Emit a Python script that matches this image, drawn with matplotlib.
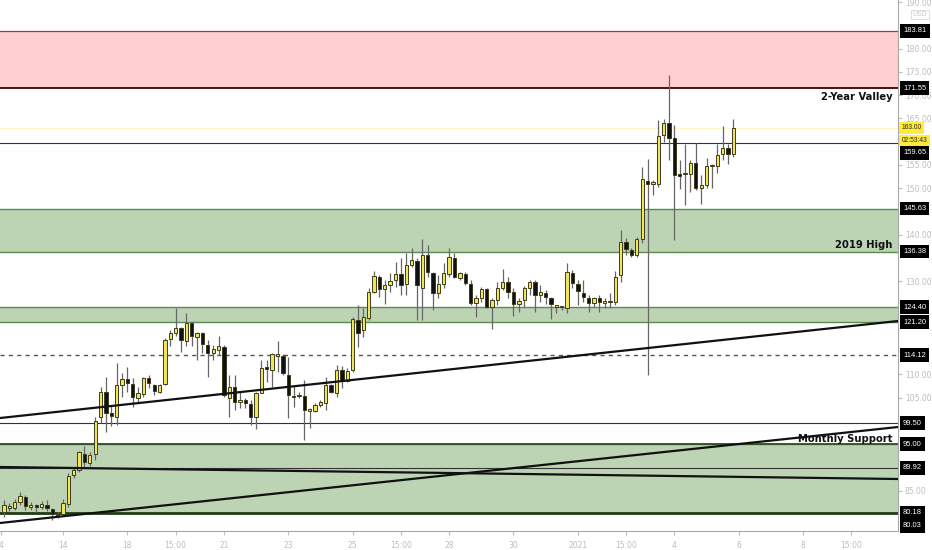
import matplotlib.pyplot as plt
from matplotlib.transforms import blended_transform_factory

# candles
opens = [80.3, 81.3, 81.3, 82.5, 83.6, 81.4, 81.6, 81.5, 82.0, 81.0,
         80.0, 80.0, 82.2, 88.3, 89.4, 92.9, 91.0, 92.8, 100.8, 106.1,
         101.7, 100.9, 107.6, 109.0, 108.0, 105.0, 105.7, 109.1, 107.6, 106.3,
         107.9, 117.5, 118.8, 119.9, 117.2, 121.1, 118.1, 118.8, 116.3, 114.5,
         115.2, 115.8, 105.0, 107.2, 104.1, 104.4, 103.6, 100.8, 106.0, 111.6,
         110.9, 114.0, 114.0, 109.8, 105.2, 105.3, 105.3, 102.1, 102.2, 103.5,
         103.9, 107.7, 106.0, 111.0, 108.6, 111.0, 121.7, 119.6, 122.2, 127.8,
         131.0, 128.3, 129.2, 130.3, 131.5, 129.4, 133.5, 134.3, 128.5, 135.6,
         131.8, 127.5, 129.4, 131.5, 135.1, 130.6, 131.6, 129.4, 125.4, 126.3,
         128.3, 124.4, 126.0, 128.5, 129.9, 127.8, 125.1, 125.9, 128.5, 129.9,
         127.1, 127.5, 126.3, 124.5, 124.4, 124.2, 131.8, 129.4, 127.5, 126.3,
         125.4, 126.3, 125.3, 125.6, 125.5, 131.3, 138.4, 136.8, 135.7, 139.0,
         151.6, 151.0, 151.0, 161.4, 164.1, 160.7, 152.9, 153.0, 153.0, 155.5,
         150.0, 150.7, 154.8, 154.7, 157.3, 158.6, 157.4]
highs = [83.0, 82.3, 83.1, 84.8, 84.0, 82.6, 82.1, 82.8, 83.0, 81.3,
         80.4, 83.2, 88.8, 90.1, 93.6, 94.6, 93.3, 100.8, 107.2, 109.5,
         103.5, 112.5, 110.2, 111.5, 109.1, 107.3, 109.5, 109.8, 108.0, 108.0,
         117.9, 119.5, 124.2, 120.2, 123.1, 121.3, 119.2, 119.2, 117.4, 116.3,
         118.2, 116.3, 109.8, 109.8, 106.3, 104.8, 104.4, 106.2, 113.1, 113.1,
         114.5, 117.1, 114.3, 113.8, 107.5, 106.2, 108.8, 102.7, 103.8, 104.4,
         109.5, 108.0, 112.0, 111.8, 111.3, 122.4, 124.9, 124.2, 128.5, 132.3,
         131.3, 130.3, 131.7, 134.2, 134.9, 136.0, 137.1, 134.9, 139.0, 137.8,
         132.1, 131.3, 133.9, 137.1, 136.0, 132.1, 131.9, 130.3, 127.0, 128.8,
         128.5, 126.3, 129.9, 132.6, 131.0, 128.5, 126.3, 129.0, 130.3, 130.3,
         129.2, 128.1, 126.7, 124.9, 124.7, 133.9, 132.4, 130.3, 130.3, 127.0,
         126.7, 127.0, 126.3, 127.4, 132.3, 141.0, 139.2, 137.1, 139.5, 154.6,
         156.2, 151.8, 164.7, 164.8, 174.3, 163.6, 156.1, 159.6, 156.1, 159.8,
         152.8, 156.4, 155.3, 159.5, 163.4, 159.5, 164.8]
lows = [79.3, 80.7, 80.9, 82.0, 80.8, 80.9, 80.5, 81.0, 80.6, 78.7,
        79.2, 79.8, 81.5, 87.8, 88.9, 89.8, 90.3, 91.5, 99.6, 97.6,
        98.8, 99.1, 105.2, 106.3, 103.0, 104.1, 105.2, 107.0, 105.5, 106.0,
        107.7, 116.1, 118.2, 114.9, 116.1, 116.1, 113.0, 114.5, 109.5, 113.1,
        114.1, 105.2, 100.9, 102.3, 102.7, 102.7, 99.1, 98.3, 105.9, 108.4,
        107.3, 110.5, 109.9, 100.5, 103.0, 104.8, 95.8, 98.4, 102.0, 103.0,
        102.4, 105.9, 105.2, 107.0, 108.4, 110.6, 115.9, 118.1, 121.7, 127.4,
        126.7, 125.2, 127.8, 128.8, 127.0, 127.0, 133.1, 121.7, 121.7, 131.0,
        123.8, 126.3, 128.5, 131.0, 130.6, 130.3, 129.2, 124.9, 122.4, 125.6,
        124.2, 119.7, 124.9, 128.1, 126.3, 122.5, 123.5, 124.5, 127.0, 123.5,
        125.6, 125.2, 121.8, 123.1, 123.8, 123.1, 128.5, 124.9, 125.6, 123.5,
        124.5, 123.5, 124.2, 124.2, 124.9, 129.9, 135.6, 135.3, 135.2, 138.3,
        109.8, 148.5, 150.3, 160.0, 156.1, 138.9, 149.9, 146.4, 149.2, 149.6,
        146.7, 150.0, 150.1, 153.2, 156.1, 155.3, 156.8]
closes = [82.0, 81.6, 82.5, 83.8, 81.6, 81.8, 81.5, 82.1, 81.2, 80.0,
          79.7, 82.3, 88.2, 89.4, 93.2, 91.1, 92.7, 100.0, 106.3, 101.7,
          101.0, 107.6, 109.0, 108.2, 105.2, 105.9, 109.2, 108.1, 106.4, 107.8,
          117.4, 118.8, 119.9, 117.4, 121.1, 118.2, 118.9, 116.6, 114.6, 115.4,
          116.1, 105.5, 107.3, 104.1, 104.5, 103.8, 100.9, 106.0, 111.3, 111.2,
          114.3, 114.2, 110.2, 105.5, 105.1, 105.4, 102.3, 102.5, 103.5, 104.1,
          107.7, 106.3, 111.0, 108.5, 110.8, 121.8, 118.8, 122.4, 127.6, 131.1,
          128.3, 129.2, 130.1, 131.5, 129.2, 133.5, 134.6, 129.2, 135.6, 132.1,
          127.5, 129.5, 131.7, 135.3, 131.0, 131.7, 129.7, 125.4, 126.3, 128.3,
          124.5, 126.0, 128.5, 129.9, 127.8, 125.2, 125.8, 128.5, 129.9, 127.0,
          127.6, 126.7, 125.1, 124.6, 124.4, 132.1, 129.7, 128.0, 126.7, 125.4,
          126.3, 125.6, 125.8, 125.5, 131.0, 138.5, 136.9, 135.7, 139.0, 151.9,
          151.0, 151.1, 161.2, 164.1, 160.9, 152.8, 152.7, 153.1, 155.5, 150.0,
          150.7, 154.8, 154.9, 157.1, 158.6, 157.4, 163.0]

# levels and drawings
red_zone = (171.55, 183.81)
green_zones = [(136.38, 145.63), (121.20, 124.40), (80.18, 95.00)]
solid_levels = [159.65, 99.50, 89.92]
dotted_level = 114.12
trend_x = [(-0.75, 166.7), (-0.75, 166.7), (-0.75, 166.7)]
trend_y = [(100.6, 121.46), (78.03, 98.67), (90.07, 87.49)]

price_labels = ["183.81", "171.55", "159.65", "145.63", "136.38", "124.40", "121.20",
                "114.12", "99.50", "95.00", "89.92", "80.18", "80.03"]
price_label_y = [183.81, 171.55, 157.6, 145.63, 136.38, 124.40, 121.20,
                 114.12, 99.50, 95.00, 89.92, 80.18, 77.45]
live_labels = ["163.00", "02:53:43"]
live_label_y = [163.0, 160.3]

y_ticks = [190, 180, 175, 170, 165, 155, 150, 140, 130, 110, 105, 85]
x_ticks = [-0.5, 11, 23, 32, 41, 53, 65, 74, 83, 95, 107, 116, 125, 137, 149, 158]
x_labels = ["4", "14", "18", "15:00", "21", "23", "25", "15:00", "28", "30",
            "2021", "15:00", "4", "6", "8", "15:00"]

notes = ["2-Year Valley", "2019 High", "Monthly Support"]
note_y = [169.6, 137.8, 96.1]

fig = plt.figure(figsize=(9.32, 5.5), dpi=100)
ax = fig.add_axes([0, 19 / 550, 898 / 932, 531 / 550])

# zones
ax.axhspan(*red_zone, color="#ffcfcf", lw=0, zorder=0)
ax.axhline(red_zone[1], color="#a33a3a", lw=0.9, zorder=1)
ax.axhline(red_zone[0], color="#4a1010", lw=1.4, zorder=1)
for lo, hi in green_zones:
    ax.axhspan(lo, hi, color="#bcd4b4", lw=0, zorder=0)
    ax.axhline(lo, color="#5f8a4f", lw=1.0, zorder=1)
    ax.axhline(hi, color="#5f8a4f", lw=1.0, zorder=1)
ax.axhline(green_zones[2][0], color="#233d17", lw=2.0, zorder=1)
ax.axhline(green_zones[2][1], color="#2f4f22", lw=1.3, zorder=1)

ax.axhline(163.0, color="#fff7c8", lw=1.0, zorder=1)
for lv in solid_levels:
    ax.axhline(lv, color="#333333", lw=0.8, zorder=1)
ax.axhline(dotted_level, color="#555555", lw=1.0, ls=(0, (3, 3)), zorder=1)

for tx, ty in zip(trend_x, trend_y):
    ax.plot(tx, ty, color="#111111", lw=1.6, zorder=4, solid_capstyle="butt")

# candles
idx = list(range(len(opens)))
ax.vlines(idx, lows, highs, color="#666666", lw=0.9, zorder=2)
for i in idx:
    o, c = opens[i], closes[i]
    bottom = min(o, c)
    h = max(abs(c - o), 0.3)
    up = c >= o
    ax.bar(i, h, bottom=bottom, width=0.62,
           color="#f2e45a" if up else "#111111",
           edgecolor="#3d3d1c", linewidth=0.7, zorder=3)

ax.set_xlim(-0.75, 166.7)
ax.set_ylim(76.31, 190.475)

# annotations
for txt, yv in zip(notes, note_y):
    ax.text(0.9935, yv, txt, transform=blended_transform_factory(ax.transAxes, ax.transData),
            ha="right", va="center", fontsize=8, fontweight="bold",
            fontstretch="condensed", family=["Liberation Sans Narrow", "DejaVu Sans"],
            color="#111111", zorder=6)

# axes styling
for s in ["top", "left"]:
    ax.spines[s].set_visible(False)
ax.spines["right"].set_color("#a8a8a8")
ax.spines["bottom"].set_color("#a8a8a8")
ax.yaxis.tick_right()
ax.set_yticks(y_ticks)
ax.set_yticklabels([f"{v:.2f}" for v in y_ticks])
ax.tick_params(axis="y", colors="#bdbdbd", labelsize=5.5, length=3, pad=2)
ax.set_xticks(x_ticks)
ax.set_xticklabels(x_labels)
ax.tick_params(axis="x", colors="#bdbdbd", labelsize=5.5, length=3, pad=4)

trans = blended_transform_factory(ax.transAxes, ax.transData)
for txt, yv in zip(price_labels, price_label_y):
    ax.text(1.0055, yv, txt, transform=trans, ha="left", va="center", color="white",
            fontsize=5.4, family="Liberation Sans", clip_on=False, zorder=10,
            bbox=dict(boxstyle="square,pad=0.45", fc="black", ec="none"))
for txt, yv in zip(live_labels, live_label_y):
    ax.text(1.004, yv, txt, transform=trans, ha="left", va="center", color="#222222",
            fontsize=4.8, family="Liberation Sans", clip_on=False, zorder=10,
            bbox=dict(boxstyle="square,pad=0.35", fc="#ffeb3b", ec="none"))
ax.text(1.016, 187.4, "USD", transform=trans, ha="left", va="center", color="#c8c8c8",
        fontsize=5.0, clip_on=False,
        bbox=dict(boxstyle="square,pad=0.25", fc="white", ec="#d8d8d8", lw=0.6))

fig.savefig("out.png", dpi=100)
